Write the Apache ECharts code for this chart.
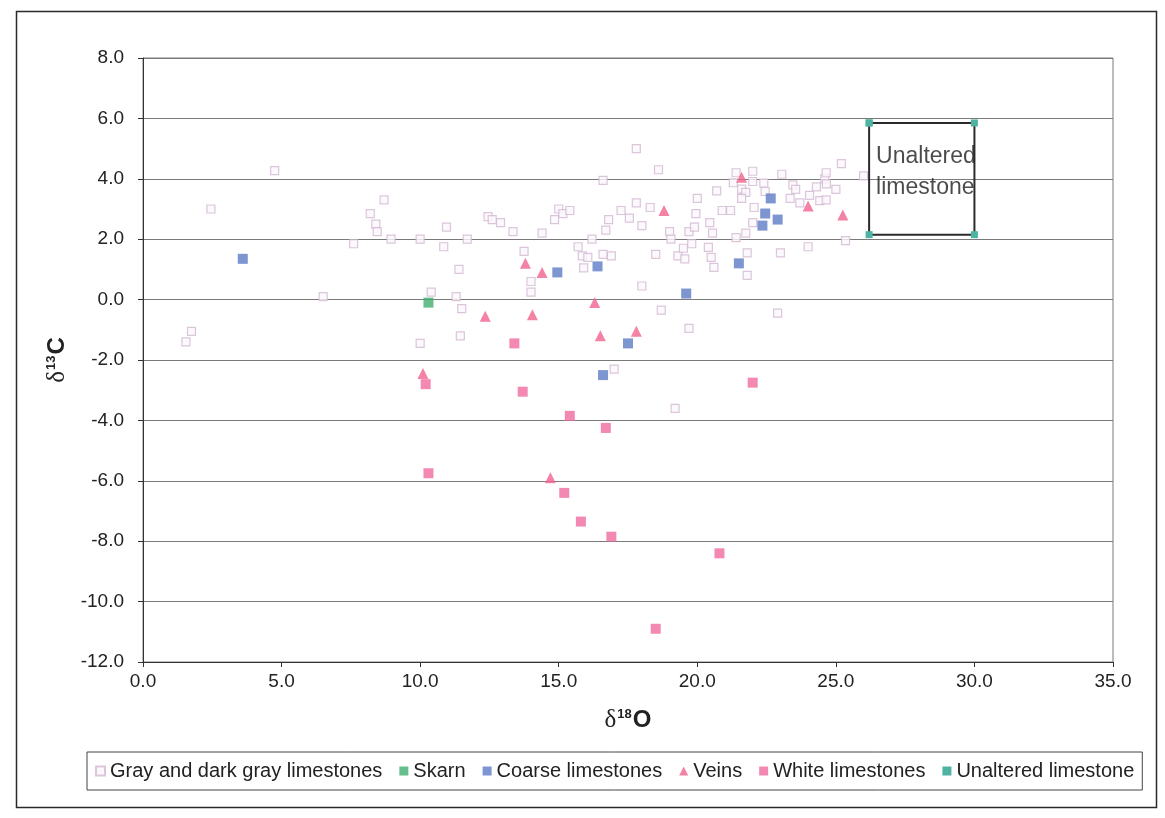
<!DOCTYPE html>
<html><head><meta charset="utf-8">
<script src="https://cdn.jsdelivr.net/npm/echarts@6/dist/echarts.min.js"></script>
<style>html,body{margin:0;padding:0;background:#fff}#c{width:1165px;height:818px}</style>
</head><body><div id="c"></div>
<script>
const seriesNames = ['Gray and dark gray limestones','Skarn','Coarse limestones','Veins','White limestones','Unaltered limestone'];
const xTicks = [0, 5, 10, 15, 20, 25, 30, 35];
const yTicks = [-12, -10, -8, -6, -4, -2, 0, 2, 4, 6, 8];
const boxLabel = 'Unaltered\nlimestone';

const grayLimestones = [
  [1.55,-1.4],[1.75,-1.05],[2.45,3.0],[4.75,4.27],[6.5,0.1],[7.6,1.85],[8.2,2.85],[8.4,2.5],[8.45,2.25],[8.7,3.3],
  [8.95,2.0],[10.0,2.0],[10.0,-1.45],[10.4,0.25],[10.85,1.75],[10.95,2.4],[11.4,1.0],[11.3,0.1],[11.5,-0.3],[11.45,-1.2],
  [11.7,2.0],[12.45,2.75],[12.9,2.55],[13.35,2.25],[12.6,2.65],[13.75,1.6],[14.0,0.6],[14.0,0.25],[14.4,2.2],[14.85,2.65],
  [15.0,3.0],[15.15,2.85],[15.4,2.95],[15.7,1.75],[15.9,1.05],[15.85,1.45],[16.05,1.4],[16.6,1.5],[16.9,1.45],[16.2,2.0],
  [16.6,3.95],[16.7,2.3],[16.8,2.65],[17.25,2.95],[17.55,2.7],[17.8,3.2],[18.0,2.45],[18.3,3.05],[17.8,5.0],[18.6,4.3],
  [17.0,-2.3],[18.0,0.45],[18.5,1.5],[18.7,-0.35],[19.0,2.25],[19.05,2.0],[19.2,-3.6],[19.3,1.45],[19.55,1.35],[19.7,-0.95],
  [19.7,2.25],[19.95,2.85],[20.0,3.35],[19.5,1.7],[19.9,2.4],[19.8,1.85],[20.4,1.73],[20.5,1.4],[20.6,1.07],[20.45,2.55],
  [20.55,2.2],[20.7,3.6],[20.9,2.95],[21.2,2.95],[21.3,3.87],[21.6,3.66],[21.4,4.2],[21.75,3.55],[21.6,3.35],[22.0,3.91],
  [22.4,3.86],[22.45,3.58],[22.05,3.05],[22.0,2.55],[21.75,2.2],[21.4,2.05],[21.8,1.55],[21.8,0.8],[22.0,4.25],[22.9,-0.45],
  [23.0,1.55],[23.05,4.15],[23.45,3.8],[23.35,3.35],[23.7,3.2],[23.55,3.65],[24.05,3.45],[24.0,1.75],[24.3,3.73],[24.42,3.28],
  [24.6,4.0],[24.65,4.2],[24.66,3.83],[25.0,3.65],[25.2,4.5],[26.0,4.1],[25.35,1.95],[24.65,3.3]
];
const skarn = [[10.3,-0.1]];
const coarseLimestones = [[3.6,1.35],[14.95,0.9],[16.4,1.1],[19.6,0.2],[21.5,1.2],[17.5,-1.45],[16.6,-2.5],[22.65,3.35],[22.45,2.85],[22.9,2.65],[22.35,2.45]];
const veins = [[10.1,-2.45],[12.35,-0.55],[13.8,1.2],[14.4,0.9],[14.05,-0.5],[14.7,-5.9],[16.3,-0.1],[16.5,-1.2],[17.8,-1.05],[18.8,2.95],[21.6,4.05],[24.0,3.1],[25.25,2.8]];
const whiteLimestones = [[10.2,-2.8],[10.3,-5.75],[13.4,-1.45],[13.7,-3.05],[15.4,-3.85],[15.2,-6.4],[15.8,-7.35],[16.7,-4.25],[16.9,-7.85],[18.5,-10.9],[20.8,-8.4],[22.0,-2.75]];
const unalteredBox = [[26.2,5.85],[30.0,5.85],[30.0,2.15],[26.2,2.15],[26.2,5.85]];
const boxLabelAnchor = [[26.2,4.23]];

const font = "'Liberation Sans', Arial, sans-serif";
const chart = echarts.init(document.getElementById('c'), null, {renderer: 'canvas'});

const nameRich = {
  d: {fontFamily: "'Liberation Serif','Times New Roman',serif", fontSize: 25, color: '#222', fontWeight: 'normal'},
  s: {fontFamily: font, fontSize: 13, color: '#222', fontWeight: 'bold', verticalAlign: 'top', padding: [0,1,0,1]},
  b: {fontFamily: font, fontSize: 24, color: '#222', fontWeight: 'bold'}
};

const option = {
  animation: false,
  backgroundColor: '#ffffff',
  graphic: [{
    type: 'rect', left: 14, top: 9, shape: {width: 1140, height: 796},
    style: {fill: 'none', stroke: '#2a2a2a', lineWidth: 1.5}, silent: true, z: -10
  }],
  grid: {left: 143, top: 58, width: 970, height: 604, show: true, borderColor: '#7a7a7a', borderWidth: 1, backgroundColor: 'transparent'},
  legend: {
    left: 87, top: 752, orient: 'horizontal',
    itemWidth: 9, itemHeight: 9, itemGap: 17,
    padding: [9, 8, 9, 8],
    borderColor: '#444', borderWidth: 1,
    textStyle: {fontFamily: font, fontSize: 20, color: '#222'},
    data: [
      {name: seriesNames[0], icon: 'rect'},
      {name: seriesNames[1], icon: 'rect'},
      {name: seriesNames[2], icon: 'rect'},
      {name: seriesNames[3], icon: 'triangle'},
      {name: seriesNames[4], icon: 'rect'},
      {name: seriesNames[5], icon: 'rect', itemStyle: {color: '#4fb3a2'}}
    ]
  },
  xAxis: {
    type: 'value', min: xTicks[0], max: xTicks[xTicks.length - 1], interval: xTicks[1] - xTicks[0],
    axisLine: {show: true, onZero: false, lineStyle: {color: '#333', width: 1}},
    axisTick: {show: true, length: 5, lineStyle: {color: '#333'}},
    axisLabel: {formatter: v => v.toFixed(1), fontFamily: font, fontSize: 19, color: '#222', margin: 10},
    splitLine: {show: false},
    name: '{d|δ}{s|18}{b|O}', nameLocation: 'middle', nameGap: 46,
    nameTextStyle: {rich: nameRich}
  },
  yAxis: {
    type: 'value', min: yTicks[0], max: yTicks[yTicks.length - 1], interval: yTicks[1] - yTicks[0],
    axisLine: {show: true, onZero: false, lineStyle: {color: '#333', width: 1}},
    axisTick: {show: true, length: 5, lineStyle: {color: '#333'}},
    axisLabel: {formatter: v => v.toFixed(1), fontFamily: font, fontSize: 19, color: '#222', margin: 19},
    splitLine: {show: true, lineStyle: {color: '#7a7a7a', width: 1}},
    name: '{d|δ}{s|13}{b|C}', nameLocation: 'middle', nameGap: 72, nameRotate: 90,
    nameTextStyle: {rich: nameRich}
  },
  series: [
    {name: seriesNames[0], type: 'scatter', data: grayLimestones, symbol: 'rect', symbolSize: 8,
     itemStyle: {color: '#fbf7fb', borderColor: '#d2b8d2', borderWidth: 1.2}, z: 2},
    {name: seriesNames[1], type: 'scatter', data: skarn, symbol: 'rect', symbolSize: 10,
     itemStyle: {color: '#3fae6e'}, z: 3},
    {name: seriesNames[2], type: 'scatter', data: coarseLimestones, symbol: 'rect', symbolSize: 10,
     itemStyle: {color: '#5d7bc4'}, z: 3},
    {name: seriesNames[3], type: 'scatter', data: veins, symbol: 'triangle', symbolSize: 11,
     itemStyle: {color: '#f0638f'}, z: 4},
    {name: seriesNames[4], type: 'scatter', data: whiteLimestones, symbol: 'rect', symbolSize: 10,
     itemStyle: {color: '#f06ca0'}, z: 4},
    {name: seriesNames[5], type: 'line', data: unalteredBox, symbol: 'rect', symbolSize: 7, showSymbol: true,
     color: '#4fb3a2', itemStyle: {color: '#4fb3a2'},
     lineStyle: {color: '#2b2b2b', width: 2}, z: 5},
    {name: 'boxText', type: 'scatter', data: boxLabelAnchor, symbolSize: 0, silent: true,
     label: {show: true, formatter: boxLabel, position: 'right', distance: 7, align: 'left',
       fontFamily: font, fontSize: 23, lineHeight: 31, color: '#1e1e1e'}, z: 1}
  ]
};
chart.setOption(option);
</script>
</body></html>
